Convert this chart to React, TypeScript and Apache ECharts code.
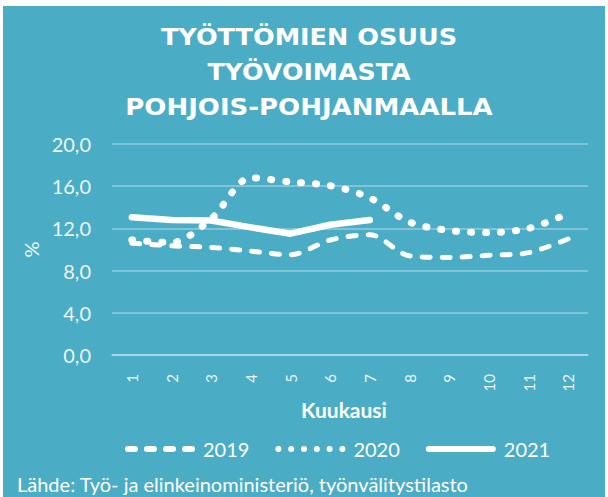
import React, { useEffect, useRef } from 'react';
import * as echarts from 'echarts';

const months = ['1', '2', '3', '4', '5', '6', '7', '8', '9', '10', '11', '12'];
const rate2019 = [10.6, 10.35, 10.2, 9.85, 9.5, 10.9, 11.4, 9.4, 9.25, 9.45, 9.7, 11.0];
const rate2020 = [10.9, 10.65, 12.9, 16.8, 16.4, 16.05, 14.9, 12.6, 11.8, 11.6, 12.0, 13.4];
const rate2021 = [13.05, 12.8, 12.75, 12.1, 11.5, 12.35, 12.8];
const seriesNames = ['2019', '2020', '2021'];
const titleLines = ['TYÖTTÖMIEN OSUUS', 'TYÖVOIMASTA', 'POHJOIS-POHJANMAALLA'];
const xAxisName = 'Kuukausi';
const yAxisName = '%';
const sourceText = 'Lähde: Työ- ja elinkeinoministeriö, työnvälitystilasto';

const TEAL = '#4BACC6';
const GRID = 'rgba(255,255,255,0.4)';
const LABEL = 'rgba(255,255,255,0.92)';

function pill(x0: number, x1: number): string {
  return `M${x0 + 3} 0 H${x1 - 3} A3 3 0 0 1 ${x1 - 3} 6 H${x0 + 3} A3 3 0 0 1 ${x0 + 3} 0 Z`;
}
function dot(cx: number): string {
  return `M${cx - 3} 3 A3 3 0 1 0 ${cx + 3} 3 A3 3 0 1 0 ${cx - 3} 3 Z`;
}
const dashIcon = 'path://' + [0, 19, 38, 57].map((s) => pill(s, s + 13)).join(' ');
const dotIcon = 'path://' + [3, 15.8, 28.6, 41.4, 54.2, 67].map((c) => dot(c)).join(' ');
const solidIcon = 'path://' + pill(0, 70);

export default function App() {
  const ref = useRef<HTMLDivElement>(null);
  useEffect(() => {
    if (!ref.current) return;
    const chart = echarts.init(ref.current, null, { renderer: 'svg' });
    const titleY = [37, 72, 107];
    const titleScale = [1.11, 1.1, 1.13];
    chart.setOption({
      animation: false,
      backgroundColor: '#ffffff',
      graphic: [
        { type: 'rect', z: -10, shape: { x: 3, y: 6, width: 602, height: 491 }, style: { fill: TEAL } },
        ...titleLines.map((t, i) => ({
          type: 'text',
          x: 309,
          y: titleY[i],
          scaleX: titleScale[i],
          style: {
            text: t,
            fill: '#ffffff',
            fontSize: 23,
            fontWeight: 'bold',
            fontFamily: '"DejaVu Sans", sans-serif',
            align: 'center',
            verticalAlign: 'middle',
            textAlign: 'center',
            textVerticalAlign: 'middle',
          },
        })),
        {
          type: 'text',
          x: 17,
          y: 484,
          style: {
            text: sourceText,
            fill: '#ffffff',
            fontSize: 20,
            fontFamily: 'Lato, sans-serif',
            align: 'left',
            verticalAlign: 'middle',
            textAlign: 'left',
            textVerticalAlign: 'middle',
          },
        },
      ],
      grid: { left: 112, right: 20, top: 144, bottom: 142, containLabel: false },
      legend: {
        data: [
          { name: seriesNames[0], icon: dashIcon },
          { name: seriesNames[1], icon: dotIcon },
          { name: seriesNames[2], icon: solidIcon },
        ],
        left: 120,
        top: 434,
        itemWidth: 70,
        itemHeight: 6,
        itemGap: 26,
        symbolKeepAspect: false,
        itemStyle: { color: '#ffffff', borderWidth: 0 },
        textStyle: { color: '#ffffff', fontSize: 20, fontFamily: 'Lato, sans-serif', padding: [0, 0, 0, 3] },
      },
      xAxis: {
        type: 'category',
        data: months,
        boundaryGap: true,
        name: xAxisName,
        nameLocation: 'middle',
        nameGap: 44,
        nameTextStyle: {
          color: '#ffffff',
          fontSize: 21,
          fontWeight: 'bold',
          fontFamily: 'Lato, sans-serif',
          padding: [0, 12, 0, 0],
        },
        axisLine: { lineStyle: { color: GRID, width: 1.5 } },
        axisTick: { show: false },
        axisLabel: {
          rotate: 90,
          margin: 19,
          color: LABEL,
          fontSize: 15,
          fontFamily: 'Lato, sans-serif',
        },
      },
      yAxis: {
        type: 'value',
        min: 0,
        max: 20,
        interval: 4,
        name: yAxisName,
        nameLocation: 'middle',
        nameRotate: 90,
        nameGap: 65,
        nameTextStyle: { color: LABEL, fontSize: 20, fontFamily: 'Lato, sans-serif' },
        axisLine: { show: false },
        axisTick: { show: false },
        splitLine: { lineStyle: { color: GRID, width: 1.5 } },
        axisLabel: {
          margin: 21,
          color: LABEL,
          fontSize: 20,
          fontFamily: 'Lato, sans-serif',
          formatter: (v: number) => v.toFixed(1).replace('.', ','),
        },
      },
      series: [
        {
          name: seriesNames[0],
          type: 'line',
          data: rate2019,
          symbol: 'none',
          smooth: 0.3,
          lineStyle: { color: '#ffffff', width: 5, type: [8, 12], cap: 'round' },
          itemStyle: { color: '#ffffff' },
        },
        {
          name: seriesNames[1],
          type: 'line',
          data: rate2020,
          symbol: 'none',
          smooth: 0.3,
          lineStyle: { color: '#ffffff', width: 7, type: [1, 14], cap: 'round' },
          itemStyle: { color: '#ffffff' },
        },
        {
          name: seriesNames[2],
          type: 'line',
          data: rate2021,
          symbol: 'none',
          smooth: false,
          lineStyle: { color: '#ffffff', width: 6.5, cap: 'round', join: 'round' },
          itemStyle: { color: '#ffffff' },
        },
      ],
    });
    return () => chart.dispose();
  }, []);
  return (
    <div
      ref={ref}
      style={{ position: 'fixed', left: 0, top: 0, width: 608, height: 497 }}
    />
  );
}
